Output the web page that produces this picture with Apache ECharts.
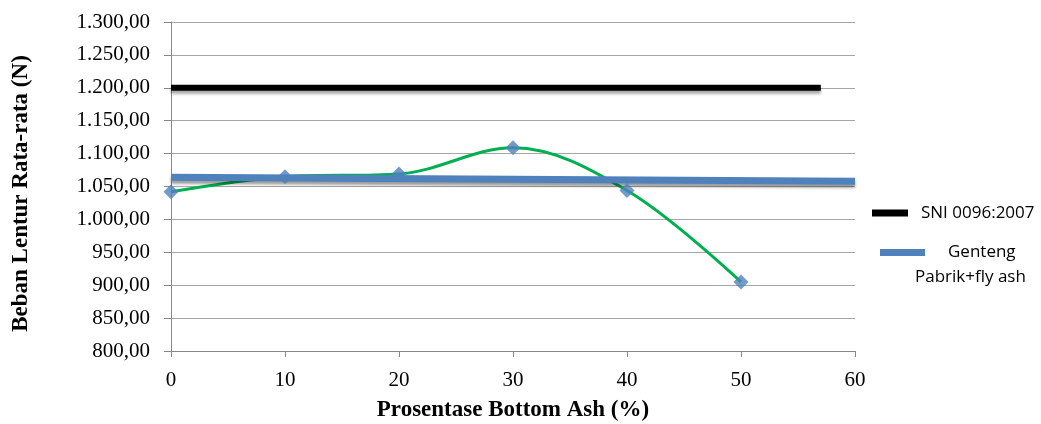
<!DOCTYPE html>
<html><head><meta charset="utf-8">
<script src="https://cdn.jsdelivr.net/npm/echarts@6/dist/echarts.min.js"></script>
<style>html,body{margin:0;padding:0;background:#fff}#c{width:1041px;height:424px}</style>
</head><body><div id="c"></div>
<script>
const xValues = [0, 10, 20, 30, 40, 50];
const bebanValues = [1042, 1065, 1069, 1109, 1044, 905];
const sniX = [0, 57];
const sniY = [1200, 1200];
const gentengX = [0, 60];
const gentengY = [1064, 1058];
const sniName = 'SNI 0096:2007';
const gentengName = 'Genteng\nPabrik+fly ash';

function fmt(v){
  const s = v.toFixed(2).split('.');
  const int = s[0].replace(/\B(?=(\d{3})+(?!\d))/g, '.');
  return int + ',' + s[1];
}
const pairs = (xs, ys) => xs.map((x,i)=>[x, ys[i]]);
const chart = echarts.init(document.getElementById('c'));
const serif = 'Liberation Serif';
const legendFont = 'Open Sans';
chart.setOption({
  animation: false,
  grid: {left: 171, right: 186, top: 22, bottom: 73, outerBoundsMode: 'none', containLabel: false},
  xAxis: {
    type: 'value', min: 0, max: 60, interval: 10,
    axisLine: {lineStyle: {color: '#888', width: 1}},
    axisTick: {show: true, length: 6, lineStyle: {color: '#888'}},
    axisLabel: {color: '#000', fontFamily: serif, fontSize: 21, margin: 19},
    splitLine: {show: false},
    name: 'Prosentase Bottom Ash (%)', nameLocation: 'middle', nameGap: 48,
    nameTextStyle: {color: '#000', fontFamily: serif, fontSize: 23, fontWeight: 'bold'}
  },
  yAxis: {
    type: 'value', min: 800, max: 1300, interval: 50,
    axisLine: {show: true, lineStyle: {color: '#888', width: 1}},
    axisTick: {show: true, length: 7, lineStyle: {color: '#888'}},
    axisLabel: {color: '#000', fontFamily: serif, fontSize: 21, margin: 21, formatter: fmt},
    splitLine: {show: true, lineStyle: {color: '#a6a6a6', width: 1}},
    name: 'Beban Lentur Rata-rata (N)', nameLocation: 'middle', nameGap: 138, nameRotate: 90,
    nameTextStyle: {color: '#000', fontFamily: serif, fontSize: 23, fontWeight: 'bold', padding: [0,14,0,0]}
  },
  legend: [
    {
      orient: 'vertical', left: 872, top: 200, padding: 0, itemWidth: 36, itemHeight: 7,
      icon: 'rect', data: [sniName],
      textStyle: {fontFamily: legendFont, fontSize: 17, color: '#000', lineHeight: 26, padding: [0,0,0,8]}
    },
    {
      orient: 'vertical', left: 880, top: 219, padding: 0, itemWidth: 45, itemHeight: 7,
      icon: 'rect', data: [gentengName],
      formatter: function(name){
        const parts = name.split('\n');
        return '{s|}\n{a|' + parts[0] + '}\n{b|' + parts[1] + '}';
      },
      textStyle: {fontFamily: legendFont, fontSize: 17, color: '#000',
        rich: {
          s: {lineHeight: 25, fontSize: 17},
          a: {lineHeight: 25, fontSize: 17, fontFamily: legendFont, color: '#000', padding: [0,0,0,18]},
          b: {lineHeight: 25, fontSize: 17, fontFamily: legendFont, color: '#000', padding: [0,0,0,-15]}
        }}
    }
  ],
  series: [
    {name: sniName, type: 'line', data: pairs(sniX, sniY), showSymbol: false, symbol: 'none', z: 2,
     itemStyle: {color: '#000'},
     lineStyle: {color: '#000', width: 6, shadowColor: 'rgba(0,0,0,0.35)', shadowBlur: 3, shadowOffsetY: 3}},
    {name: 'trend', type: 'line', data: pairs(xValues, bebanValues), smooth: 0.35, symbol: 'none', z: 2,
     lineStyle: {color: '#00b050', width: 3}},
    {name: gentengName, type: 'line', data: pairs(gentengX, gentengY), symbol: 'none', z: 3,
     itemStyle: {color: '#4f81bd'},
     lineStyle: {color: '#4f81bd', width: 7, shadowColor: 'rgba(0,0,0,0.4)', shadowBlur: 3, shadowOffsetY: 3}},
    {name: 'points', type: 'scatter', data: pairs(xValues, bebanValues), symbol: 'diamond', symbolSize: 15, z: 4,
     itemStyle: {color: '#4f81bd'}}
  ]
});
</script></body></html>
